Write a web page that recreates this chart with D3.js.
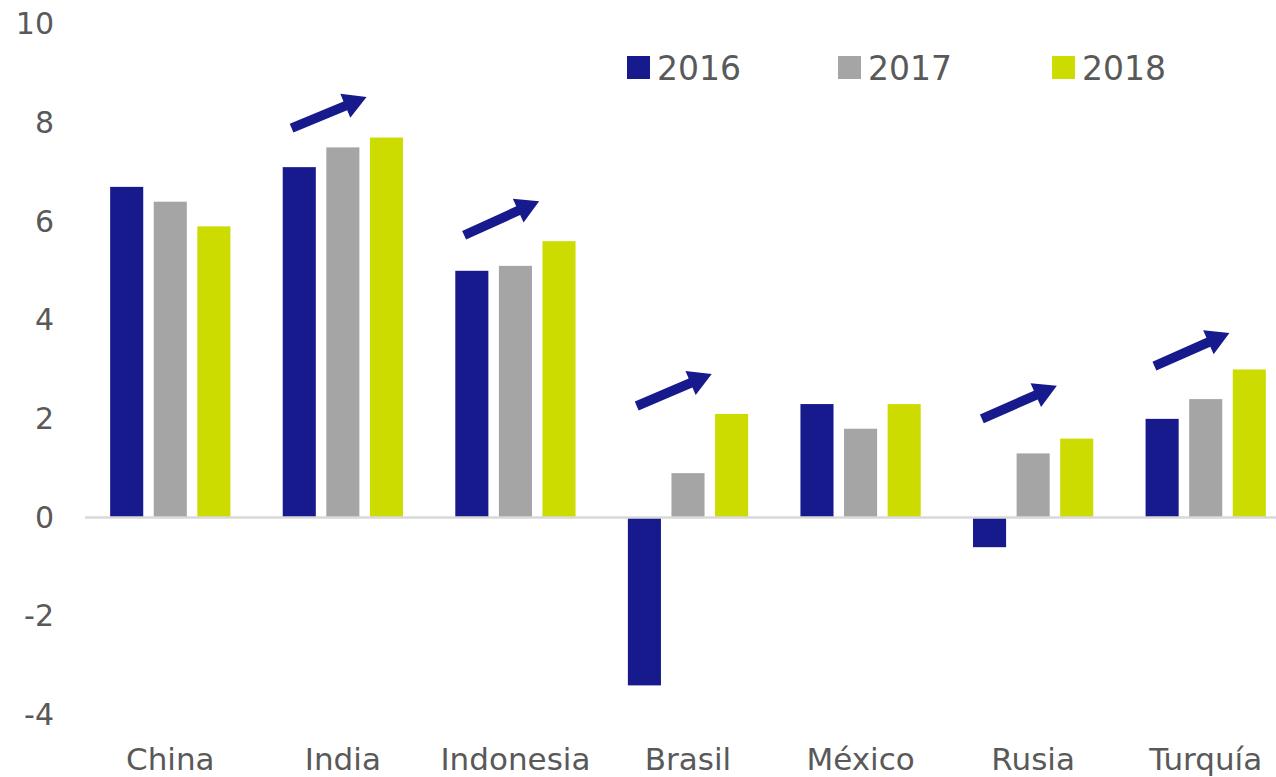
<!DOCTYPE html>
<html><head><meta charset="utf-8">
<script src="https://cdn.jsdelivr.net/npm/d3@7"></script>
<style>body{margin:0;background:#fff;}svg{display:block;}</style>
</head><body>
<svg id="c" width="1276" height="777"></svg>
<script>
const categories = ["China","India","Indonesia","Brasil","México","Rusia","Turquía"];
const series = ["2016","2017","2018"];
const v2016 = [6.7, 7.1, 5.0, -3.4, 2.3, -0.6, 2.0];
const v2017 = [6.4, 7.5, 5.1, 0.9, 1.8, 1.3, 2.4];
const v2018 = [5.9, 7.7, 5.6, 2.1, 2.3, 1.6, 3.0];
const yTicks = [10, 8, 6, 4, 2, 0, -2, -4];
const colors = ["#171a8d", "#a5a5a5", "#cddc00"];
// trend arrows: category, tail value, tip value
const arrowCats = ["India","Indonesia","Brasil","Rusia","Turquía"];
const arrowFrom = [7.89, 5.72, 2.26, 2.0, 3.07];
const arrowTo = [8.52, 6.41, 2.91, 2.67, 3.74];

const values = [v2016, v2017, v2018];
const svg = d3.select("#c");
const font = "'DejaVu Sans', sans-serif";
const textColor = "#595959";

const x = d3.scaleBand().domain(categories).range([84, 1292]).paddingInner(0).paddingOuter(0);
const xs = d3.scaleBand().domain(series).range([0, x.bandwidth()]).paddingInner(0.241).paddingOuter(0.6);
const y = d3.scaleLinear().domain([-4, 10]).range([715, 24]);

// bars
series.forEach((s, si) => {
  svg.append("g").selectAll("rect").data(categories).join("rect")
    .attr("x", c => x(c) + xs(s))
    .attr("width", xs.bandwidth())
    .attr("y", (c, i) => y(Math.max(0, values[si][i])))
    .attr("height", (c, i) => Math.abs(y(values[si][i]) - y(0)))
    .attr("fill", colors[si]);
});

// zero line
svg.append("line").attr("x1", 85).attr("x2", 1276).attr("y1", y(0)).attr("y2", y(0))
  .attr("stroke", "#d9d9d9").attr("stroke-width", 2.5);

// y axis
const yAxis = d3.axisLeft(y).tickValues(yTicks).tickSize(0).tickPadding(0)
  .tickFormat(d => d < 0 ? "-" + Math.abs(d) : String(d));
const gy = svg.append("g").attr("transform", "translate(54,0)").call(yAxis);
gy.select(".domain").remove();
gy.selectAll("text").attr("font-family", font).attr("font-size", 30).attr("fill", textColor);

// x axis
const xAxis = d3.axisBottom(x).tickSize(0).tickPadding(0);
const gx = svg.append("g").attr("transform", "translate(0,748)").call(xAxis);
gx.select(".domain").remove();
gx.selectAll("text").attr("font-family", font).attr("font-size", 31).attr("fill", textColor);

// arrows
const tailOff = 35, tipOff = 110;
arrowCats.forEach((c, i) => {
  const x0 = x(c) + tailOff, y0 = y(arrowFrom[i]);
  const x1 = x(c) + tipOff, y1 = y(arrowTo[i]);
  const dx = x1 - x0, dy = y1 - y0, L = Math.hypot(dx, dy);
  const ux = dx / L, uy = dy / L, px = -uy, py = ux;
  const sw = 4.8, hl = 23, hw = 13;
  const bx = x1 - ux * hl, by = y1 - uy * hl;
  const pts = [
    [x0 + px * sw, y0 + py * sw],
    [bx + px * sw, by + py * sw],
    [bx + px * hw, by + py * hw],
    [x1, y1],
    [bx - px * hw, by - py * hw],
    [bx - px * sw, by - py * sw],
    [x0 - px * sw, y0 - py * sw]
  ];
  svg.append("path").attr("d", d3.line()(pts) + "Z").attr("fill", colors[0]);
});

// legend
const legX = [627, 838, 1052];
series.forEach((s, i) => {
  svg.append("rect").attr("x", legX[i]).attr("y", 56).attr("width", 23).attr("height", 23).attr("fill", colors[i]);
  svg.append("text").attr("x", legX[i] + 30).attr("y", 80).text(s)
    .attr("font-family", font).attr("font-size", 33).attr("fill", textColor);
});
</script>
</body></html>
